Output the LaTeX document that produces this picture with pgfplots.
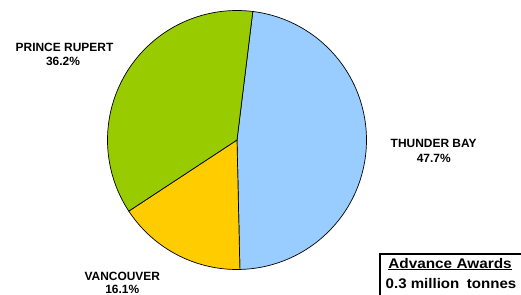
\documentclass[border=0pt]{standalone}
\usepackage{pgfplots}
\pgfplotsset{compat=1.18}
\usepackage{fontspec}
\setmainfont{Liberation Sans}
\definecolor{tbay}{HTML}{99CCFF}
\definecolor{vanc}{HTML}{FFCC00}
\definecolor{prup}{HTML}{99CC00}
% shares (percent)
\def\vTB{47.7}
\def\vVA{16.1}
\def\vPR{36.2}
\def\cx{237}
\def\cy{155}
\def\rr{129.5}
\def\st{83}
\newcommand\lab{\fontsize{12}{14}\selectfont\bfseries}
\newcommand\boxf{\fontsize{14}{16}\selectfont\bfseries}
\begin{document}
\begin{tikzpicture}
\useasboundingbox (0,0) rectangle (521bp,295bp);
\begin{axis}[x=1bp,y=1bp,xmin=0,xmax=521,ymin=0,ymax=295,
  scale only axis,hide axis,clip=false,anchor=origin,at={(0,0)}]
\addplot[fill=tbay,draw=black,line width=0.7bp,samples=90,
  domain={\st-\vTB*3.6}:{\st}] ({\cx+\rr*cos(x)},{\cy+\rr*sin(x)}) -- (axis cs:\cx,\cy) -- cycle;
\addplot[fill=vanc,draw=black,line width=0.7bp,samples=40,
  domain={\st-(\vTB+\vVA)*3.6}:{\st-\vTB*3.6}] ({\cx+\rr*cos(x)},{\cy+\rr*sin(x)}) -- (axis cs:\cx,\cy) -- cycle;
\addplot[fill=prup,draw=black,line width=0.7bp,samples=80,
  domain={\st-(\vTB+\vVA+\vPR)*3.6}:{\st-(\vTB+\vVA)*3.6}] ({\cx+\rr*cos(x)},{\cy+\rr*sin(x)}) -- (axis cs:\cx,\cy) -- cycle;
\node[anchor=base,inner sep=0] at (axis cs:64.5,243.3) {\lab PRINCE RUPERT};
\node[anchor=base,inner sep=0] at (axis cs:63,229.3) {\lab 36.2\%};
\node[anchor=base,inner sep=0] at (axis cs:433.7,148) {\lab THUNDER BAY};
\node[anchor=base,inner sep=0] at (axis cs:433.7,132.7) {\lab 47.7\%};
\node[anchor=base,inner sep=0] at (axis cs:122.3,15) {\lab VANCOUVER};
\node[anchor=base,inner sep=0] at (axis cs:122.3,2) {\lab 16.1\%};
\draw[line width=1.1bp] (axis cs:540,41) -- (axis cs:380,41) -- (axis cs:380,-10);
\node[anchor=base,inner sep=0] at (axis cs:450,27) {\boxf\scalebox{1.1}[1]{\underline{Advance Awards}}};
\node[anchor=base,inner sep=0] at (axis cs:451,6.7) {\boxf\scalebox{1.08}[1]{0.3 million\hspace{7bp}tonnes}};
\end{axis}
\end{tikzpicture}
\end{document}
